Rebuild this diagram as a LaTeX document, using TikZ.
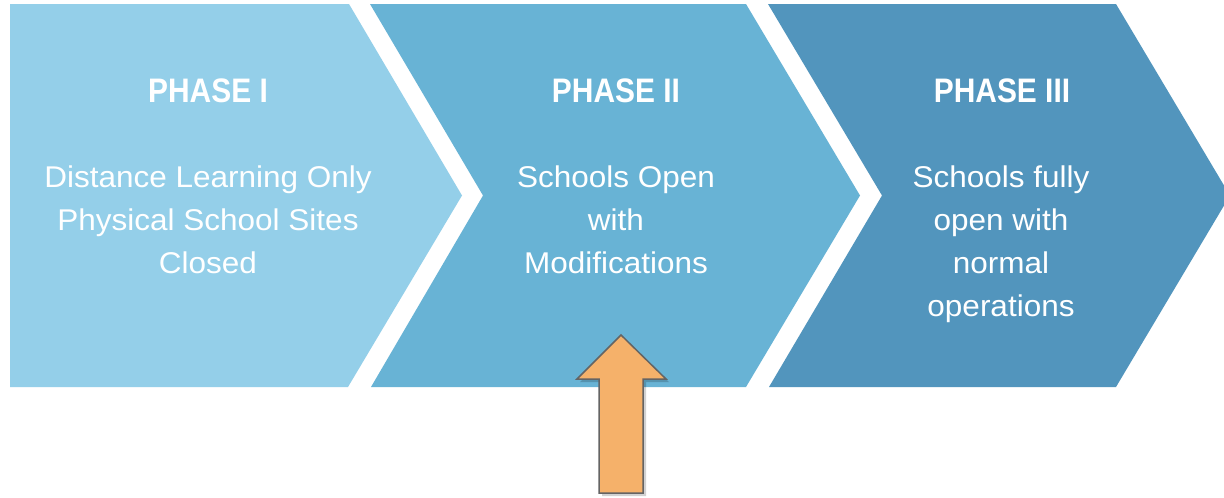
\documentclass[tikz,border=0pt]{standalone}
\usepackage{fontspec}
\setmainfont{Liberation Sans}[FakeStretch=0.88]
\newfontfamily\bodyfont{Liberation Sans}[FakeStretch=1.05]
\definecolor{cOne}{RGB}{148,207,233}
\definecolor{cTwo}{RGB}{104,179,213}
\definecolor{cThree}{RGB}{82,149,189}
\definecolor{cOrange}{RGB}{245,177,106}
\definecolor{cEdge}{RGB}{100,100,100}
\tikzset{
  titletxt/.style={text=white, font=\fontsize{34}{40}\selectfont\bfseries, anchor=base, inner sep=0pt},
  bodytxt/.style={text=white, font=\bodyfont\fontsize{30}{36}\selectfont, anchor=base, inner sep=0pt},
}
\begin{document}
\begin{tikzpicture}[x=1pt,y=-1pt]
\useasboundingbox (0,0) rectangle (1224,498);
\clip (0,0) rectangle (1224,498);
\fill[white] (0,0) rectangle (1224,498);
% chevrons
\fill[cOne] (10,4) -- (349,4) -- (462,195.5) -- (348,387) -- (10,387) -- cycle;
\fill[cTwo] (370,4) -- (746,4) -- (860,195.5) -- (746,387) -- (371,387) -- (483,195.5) -- cycle;
\fill[cThree] (768,4) -- (1116,4) -- (1230,195.5) -- (1116,387) -- (769,387) -- (882,195.5) -- cycle;
% texts
\node[titletxt] (t1) at (208,102) {PHASE I};
\node[bodytxt] (b1a) at (208,187) {Distance Learning Only};
\node[bodytxt] (b1b) at (208,230) {Physical School Sites};
\node[bodytxt] (b1c) at (208,273) {Closed};
\node[titletxt] (t2) at (616,102) {PHASE II};
\node[bodytxt] (b2a) at (616,187) {Schools Open};
\node[bodytxt] (b2b) at (616,230) {with};
\node[bodytxt] (b2c) at (616,273) {Modifications};
\node[titletxt] (t3) at (1002,102) {PHASE III};
\node[bodytxt] (b3a) at (1001,187) {Schools fully};
\node[bodytxt] (b3b) at (1001,230) {open with};
\node[bodytxt] (b3c) at (1001,273) {normal};
\node[bodytxt] (b3d) at (1001,316) {operations};
% arrow
\fill[black, opacity=0.18] (624,338) -- (669,382) -- (646,382) -- (646,496) -- (602,496) -- (602,382) -- (580,382) -- cycle;
\filldraw[fill=cOrange, draw=cEdge, line width=1.5pt, line join=miter]
  (621,335) -- (666,379) -- (643,379) -- (643,493) -- (599,493) -- (599,379) -- (577,379) -- cycle;
\end{tikzpicture}
\end{document}
